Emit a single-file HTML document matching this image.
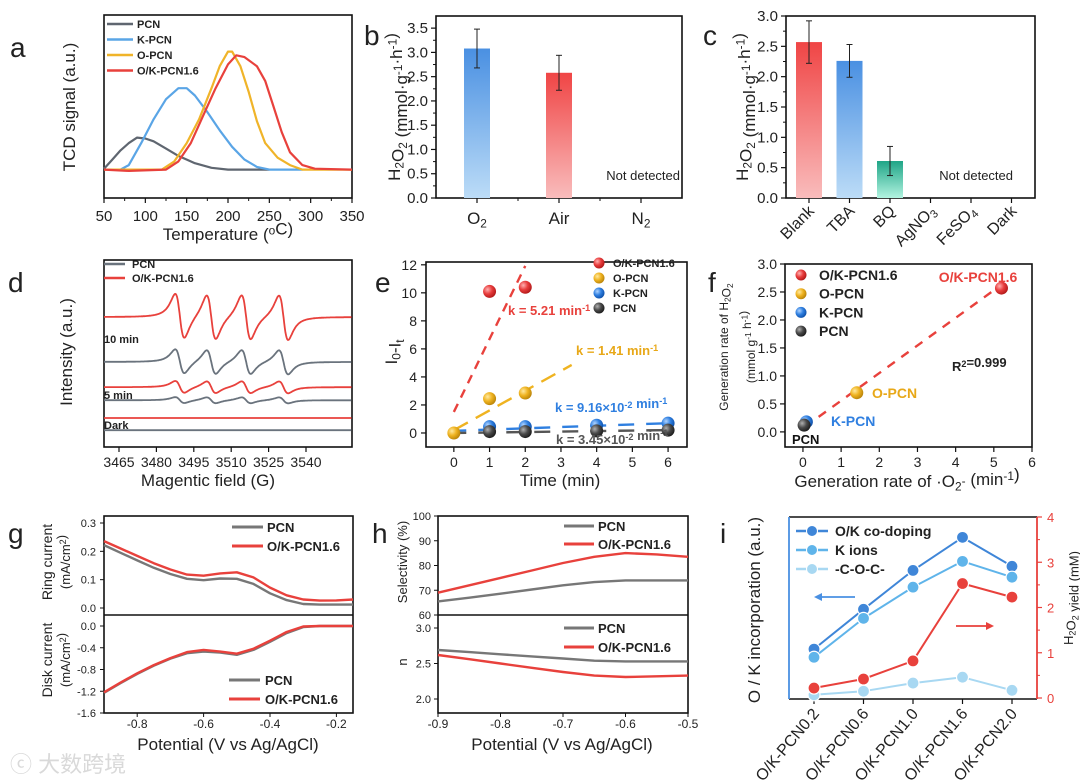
<!DOCTYPE html>
<html><head><meta charset="utf-8"><style>
html,body{margin:0;padding:0;background:#fff;}
svg{display:block;font-family:"Liberation Sans","Noto Sans CJK SC",sans-serif;}
</style></head><body>
<svg id="fig" width="1080" height="781" viewBox="0 0 1080 781" xmlns="http://www.w3.org/2000/svg">
<defs>
<linearGradient id="gBlue" x1="0" y1="0" x2="0" y2="1"><stop offset="0" stop-color="#4a90e2"/><stop offset="1" stop-color="#bcdcf7"/></linearGradient>
<linearGradient id="gRed" x1="0" y1="0" x2="0" y2="1"><stop offset="0" stop-color="#f04545"/><stop offset="1" stop-color="#f9bcbc"/></linearGradient>
<linearGradient id="gTeal" x1="0" y1="0" x2="0" y2="1"><stop offset="0" stop-color="#1fa587"/><stop offset="1" stop-color="#b2f3e0"/></linearGradient>
<radialGradient id="bRed" cx="0.35" cy="0.35" r="0.7"><stop offset="0" stop-color="#ffb0b0"/><stop offset="0.5" stop-color="#e83c3c"/><stop offset="1" stop-color="#b01818"/></radialGradient>
<radialGradient id="bYel" cx="0.35" cy="0.35" r="0.7"><stop offset="0" stop-color="#ffe9a0"/><stop offset="0.5" stop-color="#efb320"/><stop offset="1" stop-color="#b88208"/></radialGradient>
<radialGradient id="bBlu" cx="0.35" cy="0.35" r="0.7"><stop offset="0" stop-color="#b0d4ff"/><stop offset="0.5" stop-color="#2f7fe0"/><stop offset="1" stop-color="#0d4fa8"/></radialGradient>
<radialGradient id="bGry" cx="0.35" cy="0.35" r="0.7"><stop offset="0" stop-color="#b0b0b0"/><stop offset="0.5" stop-color="#4a4a4a"/><stop offset="1" stop-color="#1a1a1a"/></radialGradient>
</defs>
</svg>
<script>
// ---------- data ----------
const aSeriesNames = ["PCN","K-PCN","O-PCN","O/K-PCN1.6"];
const aPCN = [[50,0.16],[60,0.21],[70,0.26],[80,0.30],[90,0.33],[100,0.325],[110,0.31],[125,0.27],[140,0.23],[160,0.19],[180,0.165],[200,0.155],[250,0.155]];
const aKPCN = [[70,0.155],[80,0.18],[95,0.30],[110,0.43],[125,0.54],[140,0.60],[150,0.60],[160,0.56],[175,0.47],[190,0.37],[205,0.28],[220,0.21],[235,0.17],[250,0.155],[290,0.155]];
const aOPCN = [[50,0.155],[120,0.155],[135,0.20],[150,0.30],[165,0.43],[180,0.60],[190,0.72],[200,0.80],[205,0.80],[215,0.72],[225,0.58],[235,0.42],[245,0.30],[260,0.22],[275,0.18],[290,0.155],[350,0.155]];
const aOK = [[50,0.155],[80,0.148],[125,0.155],[140,0.20],[155,0.30],[170,0.45],[185,0.60],[200,0.73],[210,0.78],[220,0.77],[235,0.72],[245,0.64],[255,0.50],[265,0.36],[275,0.25],[290,0.18],[305,0.16],[350,0.155]];
const aXTicks = [50,100,150,200,250,300,350];

const bCats = ["O2","Air","N2"];
const bVals = [3.08,2.58,null];
const bErr = [0.40,0.36,null];
const bYTicks = [0,0.5,1,1.5,2,2.5,3,3.5];

const cCats = ["Blank","TBA","BQ","AgNO3","FeSO4","Dark"];
const cVals = [2.57,2.26,0.61,null,null,null];
const cErr = [0.35,0.27,0.24,null,null,null];
const cYTicks = [0,0.5,1,1.5,2,2.5,3];

const dXTicks = [3465,3480,3495,3510,3525,3540];
const dPeaks = [3489.4,3502,3516,3531];
const dBaselines = [6.95,4.55,3.2,2.5,1.55,0.9];
const dAmps = [1.2,0.65,0.32,0.16,0,0];

const eTime = [0,1,2,3,4,5,6];
const eOK = [[1,10.1],[2,10.4]];
const eO = [[0,0],[1,2.45],[2,2.85]];
const eK = [[1,0.45],[2,0.45],[4,0.55],[6,0.7]];
const eP = [[1,0.1],[2,0.1],[4,0.15],[6,0.2]];
const eSlopes = [5.21,1.41,0.0916,0.0345];
const eIntercepts = [1.5,0.2,0.15,0.0];
const eFitEnds = [2.0,3.3,6.0,6.0];
const eYTicks = [0,2,4,6,8,10,12];

const fRateO2 = [5.2,1.41,0.09,0.03];
const fRateH2O2 = [2.57,0.7,0.18,0.12];
const fXTicks = [0,1,2,3,4,5,6];
const fYTicks = [0,0.5,1,1.5,2,2.5,3];

const gPot = [-0.9,-0.85,-0.8,-0.75,-0.7,-0.65,-0.6,-0.55,-0.5,-0.45,-0.4,-0.35,-0.3,-0.25,-0.2,-0.15];
const gRingPCN = [0.222,0.195,0.168,0.142,0.120,0.103,0.098,0.104,0.103,0.085,0.052,0.028,0.014,0.012,0.012,0.012];
const gRingOK  = [0.236,0.210,0.184,0.158,0.136,0.118,0.114,0.122,0.126,0.108,0.072,0.045,0.030,0.026,0.027,0.030];
const gDiskPCN = [-1.23,-1.05,-0.88,-0.73,-0.60,-0.50,-0.47,-0.49,-0.53,-0.44,-0.29,-0.13,-0.02,0.0,0.0,0.0];
const gDiskOK  = [-1.22,-1.04,-0.87,-0.72,-0.59,-0.48,-0.44,-0.47,-0.51,-0.42,-0.27,-0.11,-0.01,0.0,0.0,0.0];

const hPot = [-0.9,-0.85,-0.8,-0.75,-0.7,-0.65,-0.6,-0.55,-0.5];
const hSelPCN = [65.5,67.0,68.6,70.3,72.0,73.3,74.0,74.0,74.0];
const hSelOK  = [69.0,72.0,75.0,78.0,81.0,83.5,85.0,84.5,83.5];
const hNPCN = [2.69,2.66,2.63,2.60,2.57,2.54,2.53,2.53,2.53];
const hNOK  = [2.62,2.56,2.50,2.44,2.38,2.33,2.31,2.32,2.33];

const iCats = ["O/K-PCN0.2","O/K-PCN0.6","O/K-PCN1.0","O/K-PCN1.6","O/K-PCN2.0"];
const iCoDope = [1.08,1.96,2.82,3.55,2.91];
const iKions = [0.90,1.76,2.45,3.02,2.67];
const iCOC = [0.07,0.15,0.33,0.46,0.17];
const iH2O2 = [0.22,0.42,0.82,2.53,2.23];
const iYTicks = [0,1,2,3,4];

// ---------- helpers ----------
const NS="http://www.w3.org/2000/svg";
const svg=document.getElementById('fig');
function el(tag,attrs,parent){const e=document.createElementNS(NS,tag);for(const k in attrs)e.setAttribute(k,attrs[k]);(parent||svg).appendChild(e);return e;}
function nm(e,name,inter){


return e;}
function lin(d0,d1,r0,r1){return v=>r0+(v-d0)/(d1-d0)*(r1-r0);}
function txt(x,y,html,o,name){o=o||{};const t=el('text',{x:x,y:y,'font-size':o.size||14,'text-anchor':o.anchor||'start',fill:o.fill||'#222','font-weight':o.weight||'normal'});
if(o.rot!==undefined)t.setAttribute('transform','rotate('+o.rot+' '+x+' '+y+')');
t.innerHTML=html;nm(t,name||'label',false);return t;}
function boxR(x0,y0,x1,y1,name,stroke){const r=el('rect',{x:x0,y:y0,width:x1-x0,height:y1-y0,fill:'none',stroke:stroke||'#111','stroke-width':1.6});nm(r,name,false);return r;}
function line(x1,y1,x2,y2,st,w,name,dash){const l=el('line',{x1:x1,y1:y1,x2:x2,y2:y2,stroke:st,'stroke-width':w||1});if(dash)l.setAttribute('stroke-dasharray',dash);nm(l,name||'tick',false);return l;}
function poly(pts,st,w,name,dash){const p=el('polyline',{points:pts.map(q=>q[0].toFixed(1)+','+q[1].toFixed(1)).join(' '),fill:'none',stroke:st,'stroke-width':w||2,'stroke-linejoin':'round'});if(dash)p.setAttribute('stroke-dasharray',dash);nm(p,name,false);return p;}
function ball(x,y,fill,name,r){const c=el('circle',{cx:x,cy:y,r:r||6.5,fill:fill});nm(c,name,false);return c;}
function panelLabel(x,y,s){txt(x,y,s,{size:28},'panel-label-'+s);}
const sub=s=>'<tspan font-size="0.7em" dy="0.3em">'+s+'</tspan><tspan dy="-0.3em"></tspan>';
const sup=s=>'<tspan font-size="0.7em" dy="-0.45em">'+s+'</tspan><tspan dy="0.45em"></tspan>';

// ---------- panel a ----------
panelLabel(10,57,'a');
{const X=lin(50,350,104,352),Y=lin(0,1,198,15);
boxR(104,15,352,198,'panel-a-axes');
aXTicks.forEach(v=>{line(X(v),198,X(v),203,'#111',1.2,'x-tick');txt(X(v),221,v,{size:15,anchor:'middle'},'x-tick-label');});
for(let v=75;v<350;v+=50)line(X(v),198,X(v),201,'#111',1,'x-minor-tick');
const cols=['#5f6670','#5aa5e6','#f0b429','#e8413c'];
[aPCN,aKPCN,aOPCN,aOK].forEach((s,i)=>poly(s.map(p=>[X(p[0]),Y(p[1])]),cols[i],2.2,'curve-'+aSeriesNames[i].toLowerCase().replace(/[^a-z0-9]/g,'-')));
aSeriesNames.forEach((n,i)=>{const y=24+15.5*i;line(107,y,133,y,cols[i],2.6,'legend-line');txt(137,y+4,n,{size:11,weight:'bold'},'legend-entry');});
txt(75,107,'TCD signal (a.u.)',{size:17,anchor:'middle',rot:-90},'y-axis-title');
txt(228,240,'Temperature ('+sup('o')+'C)',{size:17,anchor:'middle'},'x-axis-title');}

// ---------- panel b ----------
panelLabel(364,45,'b');
{const Y=lin(0,3.75,198,16),X=i=>477+82*i;
boxR(436,16,682,198,'panel-b-axes');
bYTicks.forEach(v=>{line(436,Y(v),431,Y(v),'#111',1.2,'y-tick');txt(428,Y(v)+5,v.toFixed(1),{size:15,anchor:'end'},'y-tick-label');});
for(let v=0.25;v<3.75;v+=0.5)line(436,Y(v),433,Y(v),'#111',1,'y-minor-tick');
const fills=['url(#gBlue)','url(#gRed)'];
bCats.forEach((c,i)=>{line(X(i),198,X(i),203,'#111',1.2,'x-tick');if(i<2)line(X(i)+41,198,X(i)+41,201,'#111',1,'x-minor-tick');
const lab=c==='O2'?'O'+sub('2'):c==='N2'?'N'+sub('2'):c;txt(X(i),224,lab,{size:17,anchor:'middle'},'x-tick-label');
if(bVals[i]!=null){const r=el('rect',{x:X(i)-13,y:Y(bVals[i]),width:26,height:198-Y(bVals[i]),fill:fills[i]});nm(r,'bar-'+c.toLowerCase(),false);
line(X(i),Y(bVals[i]+bErr[i]),X(i),Y(bVals[i]-bErr[i]),'#222',1,'error-bar');line(X(i)-3,Y(bVals[i]+bErr[i]),X(i)+3,Y(bVals[i]+bErr[i]),'#222',1,'error-cap');line(X(i)-3,Y(bVals[i]-bErr[i]),X(i)+3,Y(bVals[i]-bErr[i]),'#222',1,'error-cap');}});
txt(680,180,'Not detected',{size:13,anchor:'end'},'not-detected-note');
txt(400,107,'H'+sub('2')+'O'+sub('2')+' (mmol·g'+sup('-1')+'·h'+sup('-1')+')',{size:17,anchor:'middle',rot:-90},'y-axis-title');}

// ---------- panel c ----------
panelLabel(703,45,'c');
{const Y=lin(0,3,198,16),X=i=>809+40.5*i;
boxR(786,16,1035,198,'panel-c-axes');
cYTicks.forEach(v=>{line(786,Y(v),781,Y(v),'#111',1.2,'y-tick');txt(778,Y(v)+5,v.toFixed(1),{size:15,anchor:'end'},'y-tick-label');});
for(let v=0.25;v<3;v+=0.5)line(786,Y(v),783,Y(v),'#111',1,'y-minor-tick');
const fills=['url(#gRed)','url(#gBlue)','url(#gTeal)'];
cCats.forEach((c,i)=>{line(X(i),198,X(i),203,'#111',1.2,'x-tick');
const lab=c==='AgNO3'?'AgNO'+sub('3'):c==='FeSO4'?'FeSO'+sub('4'):c;txt(X(i)+6,212,lab,{size:16,anchor:'end',rot:-45},'x-tick-label');
if(cVals[i]!=null){const r=el('rect',{x:X(i)-13,y:Y(cVals[i]),width:26,height:198-Y(cVals[i]),fill:fills[i]});nm(r,'bar-'+c.toLowerCase(),false);
line(X(i),Y(cVals[i]+cErr[i]),X(i),Y(cVals[i]-cErr[i]),'#222',1,'error-bar');line(X(i)-3,Y(cVals[i]+cErr[i]),X(i)+3,Y(cVals[i]+cErr[i]),'#222',1,'error-cap');line(X(i)-3,Y(cVals[i]-cErr[i]),X(i)+3,Y(cVals[i]-cErr[i]),'#222',1,'error-cap');}});
txt(1013,180,'Not detected',{size:13,anchor:'end'},'not-detected-note');
txt(748,107,'H'+sub('2')+'O'+sub('2')+' (mmol·g'+sup('-1')+'·h'+sup('-1')+')',{size:17,anchor:'middle',rot:-90},'y-axis-title');}

// ---------- panel d ----------
panelLabel(8,292,'d');
{const X=lin(3465,3540,119,306),Y=lin(0,10,447,260);
boxR(104,260,352,447,'panel-d-axes');
dXTicks.forEach(v=>{line(X(v),447,X(v),452,'#111',1.2,'x-tick');txt(X(v),467,v,{size:14,anchor:'middle'},'x-tick-label');});
const cols=['#e8413c','#6a737d','#e8413c','#6a737d','#e8413c','#6a737d'];
const names=['trace-ok-10min','trace-pcn-10min','trace-ok-5min','trace-pcn-5min','trace-ok-dark','trace-pcn-dark'];
const w=3.2;
dBaselines.forEach((b,i)=>{const pts=[];for(let g=3459;g<=3559;g+=0.25){let s=0;dPeaks.forEach(c=>{const u=(g-c)/w;s+=-dAmps[i]*(u/Math.pow(1+u*u,2))/0.325;});pts.push([X(g),Y(b+s)]);}
const p=poly(pts.filter(q=>q[0]>=104&&q[0]<=352),cols[i],1.8,names[i]);});
line(104,264,125,264,'#6a737d',2.6,'legend-line');txt(132,268,'PCN',{size:11,weight:'bold'},'legend-entry');
line(104,278,125,278,'#e8413c',2.6,'legend-line');txt(132,282,'O/K-PCN1.6',{size:11,weight:'bold'},'legend-entry');
txt(104,343,'10 min',{size:11,weight:'bold'},'time-label-10min');
txt(104,399,'5 min',{size:11,weight:'bold'},'time-label-5min');
txt(104,429,'Dark',{size:11,weight:'bold'},'time-label-dark');
txt(72,352,'Intensity (a.u.)',{size:17,anchor:'middle',rot:-90},'y-axis-title');
txt(208,486,'Magentic field (G)',{size:17,anchor:'middle'},'x-axis-title');}

// ---------- panel e ----------
panelLabel(375,292,'e');
{const X=lin(-0.78,6.53,426,687),Y=lin(-1,12.2,447,262);
boxR(426,262,687,447,'panel-e-axes');
eTime.forEach(v=>{line(X(v),447,X(v),452,'#111',1.2,'x-tick');txt(X(v),467,v,{size:14,anchor:'middle'},'x-tick-label');});
eYTicks.forEach(v=>{line(426,Y(v),421,Y(v),'#111',1.2,'y-tick');txt(417,Y(v)+5,v,{size:14,anchor:'end'},'y-tick-label');});
const lc=['#e8413c','#efb320','#2f7fe0','#555'];const dash=['9,7','16,9','16,12','16,12'];
const fn=['fit-ok','fit-opcn','fit-kpcn','fit-pcn'];
eSlopes.forEach((k,i)=>{const x0=i>1?-0.1:0;line(X(x0),Y(eIntercepts[i]+k*x0),X(eFitEnds[i]),Y(eIntercepts[i]+k*eFitEnds[i]),lc[i],2.4,fn[i],dash[i]);});
const bf=['url(#bRed)','url(#bYel)','url(#bBlu)','url(#bGry)'];
[eOK,eO,eK,eP].forEach((s,i)=>s.forEach(p=>ball(X(p[0]),Y(p[1]),bf[i],'point')));
['O/K-PCN1.6','O-PCN','K-PCN','PCN'].forEach((n,i)=>{const y=263+15*i;ball(599,y,bf[i],'legend-marker',5.5);txt(613,y+4,n,{size:11,weight:'bold'},'legend-entry');});
txt(508,315,'k = 5.21 min'+sup('-1'),{size:13,weight:'bold',fill:'#e8413c'},'rate-label-ok');
txt(576,355,'k = 1.41 min'+sup('-1'),{size:13,weight:'bold',fill:'#e8a818'},'rate-label-opcn');
txt(555,412,'k = 9.16×10'+sup('-2')+' min'+sup('-1'),{size:13,weight:'bold',fill:'#2f7fe0'},'rate-label-kpcn');
txt(556,444,'k = 3.45×10'+sup('-2')+' min'+sup('-1'),{size:13,weight:'bold',fill:'#555'},'rate-label-pcn');
txt(397,352,'I'+sub('0')+'-I'+sub('t'),{size:17,anchor:'middle',rot:-90},'y-axis-title');
txt(560,486,'Time (min)',{size:17,anchor:'middle'},'x-axis-title');}

// ---------- panel f ----------
panelLabel(708,292,'f');
{const X=lin(-0.47,6,785,1032),Y=lin(-0.27,3,447,264);
boxR(785,264,1032,447,'panel-f-axes');
fXTicks.forEach(v=>{line(X(v),447,X(v),452,'#111',1.2,'x-tick');txt(X(v),467,v,{size:14,anchor:'middle'},'x-tick-label');});
fYTicks.forEach(v=>{line(785,Y(v),780,Y(v),'#111',1.2,'y-tick');txt(777,Y(v)+5,v.toFixed(1),{size:14,anchor:'end'},'y-tick-label');});
line(X(0.05),Y(0.09),X(5.0),Y(2.53),'#e8413c',2.4,'fit-line','9,8');
const bf=['url(#bRed)','url(#bYel)','url(#bBlu)','url(#bGry)'];
fRateO2.forEach((x,i)=>ball(X(x),Y(fRateH2O2[i]),bf[3-i<0?0:i],'point'));
['O/K-PCN1.6','O-PCN','K-PCN','PCN'].forEach((n,i)=>{const y=275+18.7*i;ball(801,y,bf[i],'legend-marker',5.5);txt(819,y+5,n,{size:14,weight:'bold'},'legend-entry');});
txt(978,282,'O/K-PCN1.6',{size:14,weight:'bold',fill:'#e8413c',anchor:'middle'},'point-label');
txt(872,398,'O-PCN',{size:14,weight:'bold',fill:'#e8a818'},'point-label');
txt(831,426,'K-PCN',{size:14,weight:'bold',fill:'#2f7fe0'},'point-label');
txt(792,444,'PCN',{size:13,weight:'bold',fill:'#111'},'point-label');
txt(952,371,'R'+sup('2')+'=0.999',{size:13,weight:'bold'},'r-squared');
txt(728,347,'Generation rate of H'+sub('2')+'O'+sub('2'),{size:12,anchor:'middle',rot:-90},'y-axis-title');
txt(755,347,'(mmol g'+sup('-1')+' h'+sup('-1')+')',{size:12,anchor:'middle',rot:-90},'y-axis-title');
txt(907,487,'Generation rate of ·O'+sub('2')+sup('-')+' (min'+sup('-1')+')',{size:17,anchor:'middle'},'x-axis-title');}

// ---------- panel g ----------
panelLabel(8,543,'g');
{const X=lin(-0.9,-0.15,104,353),Yt=lin(0,0.3,608,523),Yb=lin(0,-1.6,626,713);
boxR(104,516,353,713,'panel-g-axes');line(104,615,353,615,'#111',1.6,'panel-divider');
[0,0.1,0.2,0.3].forEach(v=>{line(104,Yt(v),100,Yt(v),'#111',1,'y-tick');txt(96,Yt(v)+4,v.toFixed(1),{size:11,anchor:'end'},'y-tick-label');});
[0,-0.4,-0.8,-1.2,-1.6].forEach(v=>{line(104,Yb(v),100,Yb(v),'#111',1,'y-tick');txt(96,Yb(v)+4,v.toFixed(1),{size:11,anchor:'end'},'y-tick-label');});
[-0.8,-0.6,-0.4,-0.2].forEach(v=>{line(X(v),713,X(v),717,'#111',1,'x-tick');txt(X(v),728,v.toFixed(1),{size:12,anchor:'middle'},'x-tick-label');});
poly(gPot.map((p,i)=>[X(p),Yt(gRingPCN[i])]),'#777',2.4,'ring-pcn');
poly(gPot.map((p,i)=>[X(p),Yt(gRingOK[i])]),'#e8413c',2.4,'ring-ok');
poly(gPot.map((p,i)=>[X(p),Yb(gDiskPCN[i])]),'#777',2.4,'disk-pcn');
poly(gPot.map((p,i)=>[X(p),Yb(gDiskOK[i])]),'#e8413c',2.4,'disk-ok');
line(232,527,263,527,'#777',3,'legend-line');txt(267,532,'PCN',{size:13,weight:'bold'},'legend-entry');
line(232,546,263,546,'#e8413c',3,'legend-line');txt(267,551,'O/K-PCN1.6',{size:13,weight:'bold'},'legend-entry');
line(229,680,260,680,'#777',3,'legend-line');txt(265,685,'PCN',{size:13,weight:'bold'},'legend-entry');
line(229,699,260,699,'#e8413c',3,'legend-line');txt(265,704,'O/K-PCN1.6',{size:13,weight:'bold'},'legend-entry');
txt(52,562,'Ring current',{size:14,anchor:'middle',rot:-90},'y-axis-title-ring');
txt(70,562,'(mA/cm'+sup('2')+')',{size:13,anchor:'middle',rot:-90},'y-axis-unit-ring');
txt(52,660,'Disk current',{size:14,anchor:'middle',rot:-90},'y-axis-title-disk');
txt(70,660,'(mA/cm'+sup('2')+')',{size:13,anchor:'middle',rot:-90},'y-axis-unit-disk');
txt(228,750,'Potential (V vs Ag/AgCl)',{size:17,anchor:'middle'},'x-axis-title');}

// ---------- panel h ----------
panelLabel(372,543,'h');
{const X=lin(-0.9,-0.5,438,688),Yt=lin(60,100,615,516),Yb=lin(2,3,699,628);
boxR(438,516,688,713,'panel-h-axes');line(438,615,688,615,'#111',1.6,'panel-divider');
[60,70,80,90,100].forEach(v=>{line(438,Yt(v),434,Yt(v),'#111',1,'y-tick');txt(431,Yt(v)+4,v,{size:11,anchor:'end'},'y-tick-label');});
[2.0,2.5,3.0].forEach(v=>{line(438,Yb(v),434,Yb(v),'#111',1,'y-tick');txt(431,Yb(v)+4,v.toFixed(1),{size:11,anchor:'end'},'y-tick-label');});
[-0.9,-0.8,-0.7,-0.6,-0.5].forEach(v=>{line(X(v),713,X(v),717,'#111',1,'x-tick');txt(X(v),728,v.toFixed(1),{size:12,anchor:'middle'},'x-tick-label');});
poly(hPot.map((p,i)=>[X(p),Yt(hSelPCN[i])]),'#777',2.4,'selectivity-pcn');
poly(hPot.map((p,i)=>[X(p),Yt(hSelOK[i])]),'#e8413c',2.4,'selectivity-ok');
poly(hPot.map((p,i)=>[X(p),Yb(hNPCN[i])]),'#777',2.4,'n-pcn');
poly(hPot.map((p,i)=>[X(p),Yb(hNOK[i])]),'#e8413c',2.4,'n-ok');
line(564,526,594,526,'#777',3,'legend-line');txt(598,531,'PCN',{size:13,weight:'bold'},'legend-entry');
line(564,544,594,544,'#e8413c',3,'legend-line');txt(598,549,'O/K-PCN1.6',{size:13,weight:'bold'},'legend-entry');
line(564,628,594,628,'#777',3,'legend-line');txt(598,633,'PCN',{size:13,weight:'bold'},'legend-entry');
line(564,647,594,647,'#e8413c',3,'legend-line');txt(598,652,'O/K-PCN1.6',{size:13,weight:'bold'},'legend-entry');
txt(407,562,'Selectivity (%)',{size:13,anchor:'middle',rot:-90},'y-axis-title-selectivity');
txt(407,662,'n',{size:13,anchor:'middle',rot:-90},'y-axis-title-n');
txt(562,750,'Potential (V vs Ag/AgCl)',{size:17,anchor:'middle'},'x-axis-title');}

// ---------- panel i ----------
panelLabel(720,543,'i');
{const X=i=>814+49.5*i,Y=lin(0,4,698,517);
line(789,517,1037,517,'#111',1.4,'top-border');line(789,699,1037,699,'#111',1.4,'bottom-border');
line(789,517,789,699,'#4a90e2',1.8,'left-axis');line(1037,517,1037,699,'#e8413c',1.8,'right-axis');
iYTicks.forEach(v=>{line(1037,Y(v),1042,Y(v),'#e8413c',1.2,'y-tick');txt(1047,Y(v)+5,v,{size:13,fill:'#e8413c'},'y-tick-label');});
for(let v=0.5;v<4;v+=1)line(1037,Y(v),1040,Y(v),'#e8413c',1,'y-minor-tick');
iCats.forEach((c,i)=>{line(X(i),699,X(i),704,'#111',1.2,'x-tick');txt(X(i)+6,714,c,{size:16,anchor:'end',rot:-50},'x-tick-label');});
const cols=['#3f86d8','#5fb4ea','#a8d8f2','#e8413c'];const nms=['series-co-doping','series-k-ions','series-coc','series-h2o2-yield'];
[iCoDope,iKions,iCOC,iH2O2].forEach((s,k)=>{poly(s.map((v,i)=>[X(i),Y(v)]),cols[k],2,nms[k]);s.forEach((v,i)=>{const c=el('circle',{cx:X(i),cy:Y(v),r:6,fill:cols[k],stroke:'#fff','stroke-width':1.2});nm(c,'point',false);});});
['O/K co-doping','K ions','-C-O-C-'].forEach((n,k)=>{const y=531+19*k;line(796,y,828,y,cols[k],2.4,'legend-line');const c=el('circle',{cx:812,cy:y,r:5.5,fill:cols[k],stroke:'#fff','stroke-width':1});nm(c,'legend-marker',false);txt(835,y+5,n,{size:14,weight:'bold'},'legend-entry');});
line(818,597,855,597,'#4a90e2',1.8,'left-arrow-shaft');el('path',{d:'M814 597 L822 593 L822 601 Z',fill:'#4a90e2'});
line(956,626,988,626,'#e8413c',1.8,'right-arrow-shaft');el('path',{d:'M994 626 L986 622 L986 630 Z',fill:'#e8413c'});
txt(760,610,'O / K incorporation (a.u.)',{size:17,anchor:'middle',rot:-90},'y-axis-title-left');
txt(1073,598,'H'+sub('2')+'O'+sub('2')+' yield (mM)',{size:13,anchor:'middle',rot:-90},'y-axis-title-right');}

// watermark
txt(10,772,'ⓒ 大数跨境',{size:22,fill:'#d9d9d9'},'watermark');
</script>
</body></html>
